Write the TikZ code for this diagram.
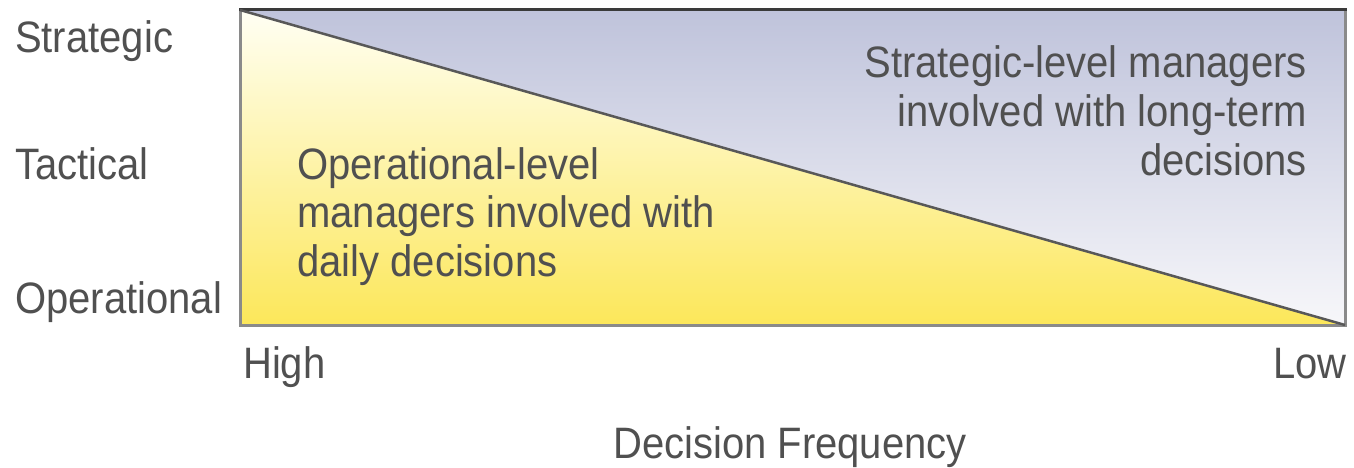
\documentclass[tikz,border=0pt]{standalone}
\usepackage{fontspec}
\setmainfont{Liberation Sans}
\usepackage{graphicx}
\definecolor{txt}{HTML}{505050}
\definecolor{lav}{HTML}{BFC3DB}
\definecolor{lavlow}{HTML}{F7F7FA}
\definecolor{creamtop}{HTML}{FFFFF4}
\definecolor{yelmid}{HTML}{FDF5BE}
\definecolor{yelbot}{HTML}{FCE75A}
\definecolor{edgegray}{HTML}{8A8A8A}
\definecolor{edgedark}{HTML}{3A3A3A}
\newcommand{\vstr}[1]{\scalebox{1}[1.1]{#1}}
\begin{document}
\begin{tikzpicture}[x=1pt,y=-1pt,
  lbl/.style={inner sep=0pt, text=txt, font=\fontsize{40}{44.5}\selectfont},
  edge/.style={line width=3pt}]
\useasboundingbox (0,0) rectangle (1354,468);
% corners of the chart
\coordinate (tl) at (240,10);
\coordinate (tr) at (1345,10);
\coordinate (bl) at (240,325);
\coordinate (br) at (1345,325);
% shaded regions
\fill[top color=lav, bottom color=lavlow] (tl) -- (tr) -- (br) -- cycle;
\fill[top color=creamtop, middle color=yelmid, bottom color=yelbot] (tl) -- (br) -- (bl) -- cycle;
% border
\draw[edge, draw=edgegray] (tr) -- (br) -- (bl) -- (tl);
\draw[edge, draw=edgedark, line cap=rect] (tl) -- (tr);
\draw[line width=2.5pt, draw=edgedark!85] (tl) -- (br);
% level labels
\node[lbl, anchor=base west] (strat) at (15,53) {\vstr{Strategic}};
\node[lbl, anchor=base west] (tact) at (15,179) {\vstr{Tactical}};
\node[lbl, anchor=base west] (oper) at (15,313) {\vstr{Operational}};
% frequency labels
\node[lbl, anchor=base west] (high) at (243,378) {\vstr{High}};
\node[lbl, anchor=base east] (low) at (1347,378) {\vstr{Low}};
\node[lbl, anchor=base] (freq) at (790,458) {\vstr{Decision Frequency}};
% region texts
\node[lbl, anchor=base west] (optext) at (297,179)
  {\vstr{\begin{tabular}[t]{@{}l@{}}Operational-level\\managers involved with\\daily decisions\end{tabular}}};
\node[lbl, anchor=base east] (sttext) at (1307,78)
  {\vstr{\begin{tabular}[t]{@{}r@{}}Strategic-level managers\\involved with long-term\\decisions\end{tabular}}};
\end{tikzpicture}
\end{document}
